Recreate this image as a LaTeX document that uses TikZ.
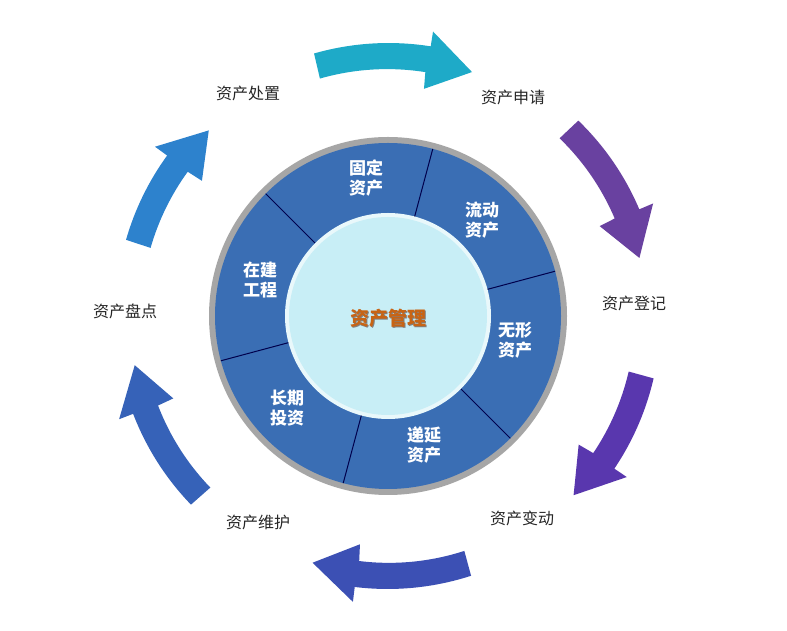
\documentclass[tikz,border=0pt]{standalone}
\usepackage{fontspec}
\setmainfont{Noto Sans CJK SC}
\usetikzlibrary{calc}
\definecolor{ringblue}{RGB}{58,110,180}
\definecolor{inner}{RGB}{200,238,246}
\definecolor{teal1}{RGB}{30,170,200}
\definecolor{purp}{RGB}{105,65,160}
\definecolor{blu}{RGB}{60,80,180}
\definecolor{blu2}{RGB}{45,130,205}
\definecolor{ctext}{RGB}{200,100,20}
\tikzset{
  lbl/.style={font=\fontsize{16}{18}\selectfont, text=black!85},
  seg/.style={font=\bfseries\fontsize{17}{20}\selectfont, text=white, align=center},
  divider/.style={draw=black!70!blue, line width=1pt}
}
\newcommand{\cycarrow}[3]{%
  \pgfmathsetmacro{\hb}{#2+10}%
  \fill[#3] (#1:247pt) arc[start angle=#1, end angle=\hb, radius=244pt]
    -- (\hb:230pt) -- (#2:258pt) -- (\hb:288pt) -- (\hb:273pt)
    arc[start angle=\hb, end angle=#1, radius=270pt] -- cycle;}
\begin{document}
\begin{tikzpicture}[x=1pt,y=1pt]
\useasboundingbox (0,0) rectangle (787,631);
\fill[white] (0,0) rectangle (787,631);
\begin{scope}[shift={(388,315)}]
  \cycarrow{106}{71}{teal1}
  \cycarrow{46}{13}{purp}
  \cycarrow{-13}{-44}{purp!85!blue}
  \cycarrow{-72}{-107}{blu}
  \cycarrow{-136}{-169}{blu!80!teal1}
  \cycarrow{164}{134}{blu2}
  \fill[gray!70] (0,0) circle (179pt);
  \fill[ringblue] (0,0) circle (173pt);
  \foreach \a in {75,15,-45,-105,195,135}
    \draw[divider] (\a:102pt) -- (\a:173pt);
  \fill[white!60!inner] (0,0) circle (103pt);
  \fill[inner] (0,0) circle (99pt);
  \node[font=\bfseries\fontsize{19}{22}\selectfont, text=black!50] (ctrs) at (1,-3) {资产管理};
  \node[font=\bfseries\fontsize{19}{22}\selectfont, text=ctext] (ctr) at (0,-2) {资产管理};
\end{scope}
\node[seg] (s1) at (366,631-178) {固定\\资产};
\node[seg] (s2) at (482,631-220) {流动\\资产};
\node[seg] (s3) at (515,631-340) {无形\\资产};
\node[seg] (s4) at (424,631-445) {递延\\资产};
\node[seg] (s5) at (287,631-408) {长期\\投资};
\node[seg] (s6) at (260,631-280) {在建\\工程};
\node[lbl] (l1) at (248,631-93) {资产处置};
\node[lbl] (l2) at (513,631-97) {资产申请};
\node[lbl] (l3) at (634,631-303) {资产登记};
\node[lbl] (l4) at (522,631-518) {资产变动};
\node[lbl] (l5) at (258,631-522) {资产维护};
\node[lbl] (l6) at (125,631-311) {资产盘点};
\end{tikzpicture}
\end{document}
